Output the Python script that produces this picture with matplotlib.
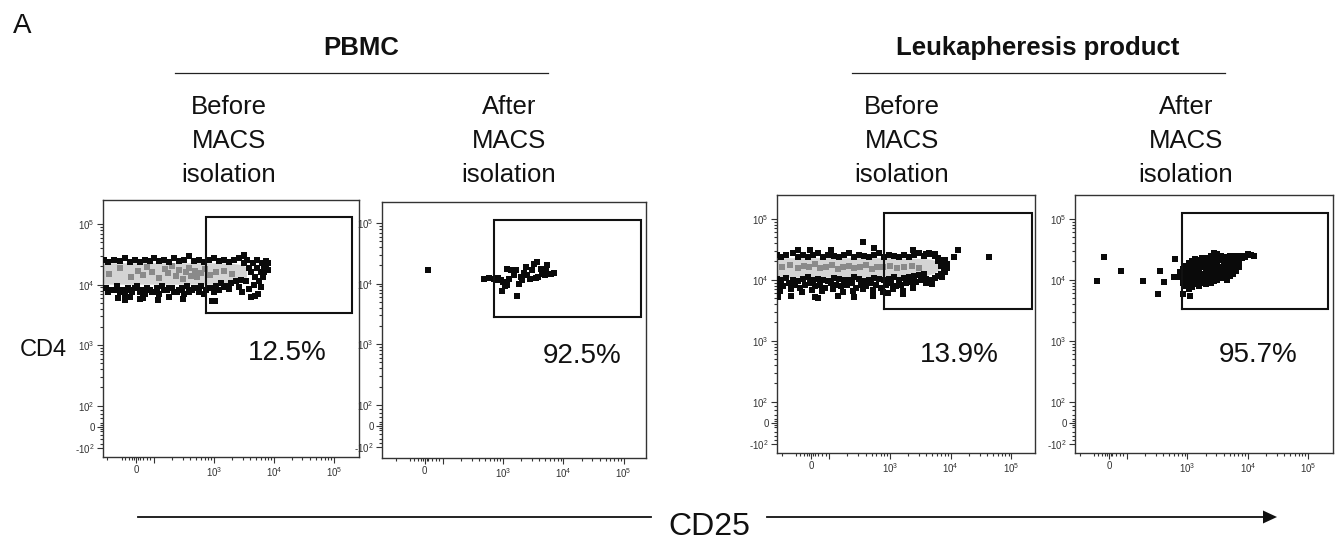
import numpy as np
import matplotlib
matplotlib.use("Agg")
import matplotlib.pyplot as plt
from matplotlib.lines import Line2D
from matplotlib.patches import Polygon

plt.rcParams['font.family'] = ['Liberation Sans', 'DejaVu Sans']
plt.rcParams['mathtext.fontset'] = 'custom'
plt.rcParams['mathtext.rm'] = 'Liberation Sans'
plt.rcParams['mathtext.it'] = 'Liberation Sans:italic'
plt.rcParams['mathtext.bf'] = 'Liberation Sans:bold'
plt.rcParams['axes.unicode_minus'] = False

# ---------------- data (CD25 on x, CD4 on y) ----------------
group_titles = ['PBMC', 'Leukapheresis product']
panel_titles = [['Before', 'MACS', 'isolation'], ['After', 'MACS', 'isolation'],
                ['Before', 'MACS', 'isolation'], ['After', 'MACS', 'isolation']]
percents = ['12.5%', '92.5%', '13.9%', '95.7%']
x_label = 'CD25'
y_label = 'CD4'

y_major = [-100, 0, 100, 1e3, 1e4, 1e5]
y_major_labels = ['-$10^2$', '0', '$10^2$', '$10^3$', '$10^4$', '$10^5$']
x_major = [0, 100, 1e3, 1e4, 1e5]
x_major_labels = ['0', '', '$10^3$', '$10^4$', '$10^5$']

# gates [cd25_lo, cd25_hi, cd4_lo, cd4_hi]
gates = [[736, 2.0e5, 3420, 1.32e5],
         [698, 1.9e5, 2800, 1.13e5],
         [795, 2.2e5, 3300, 1.24e5],
         [813, 2.1e5, 3300, 1.24e5]]

# --- PBMC before: dense band (fill) + grey speckles + black edge events
p1_band_cd25 = [-200, 0, 300, 1000, 2000, 2900, 3500]
p1_band_lo = [10200, 10200, 10200, 10200, 10500, 11500, 13500]
p1_band_hi = [23000, 23000, 23000, 23000, 22500, 21500, 19500]
p1_gray_cd25 = [-140, -90, -30, 10, 40, 60, 90, 120, 150, 170, 200, 230, 260, 300, 340,
                380, 420, 480, 520, 600, 700, 850, 1100, 1500, 2000]
p1_gray_cd4 = [15000, 19000, 13500, 17000, 14500, 19500, 16000, 13000, 18000, 15500,
               20000, 14000, 17500, 12500, 16500, 19000, 14000, 17000, 13500, 15500,
               18500, 14500, 16000, 17000, 15000]
p1_top_cd25 = [-172, -144, -117, -89, -61, -33, -6, 22, 50, 78, 102, 123, 149, 180, 218,
               264, 319, 386, 467, 565, 684, 827, 1000, 1210, 1463, 1770, 2142, 2590, 3134]
p1_top_cd4 = [25100, 23300, 25100, 24200, 27100, 23300, 25100, 23300, 25100, 24200,
              27100, 24200, 25100, 23300, 27100, 24200, 25100, 29300, 24200, 25100,
              23300, 25100, 27100, 24200, 25100, 23300, 25100, 27100, 29300]
p1_bot_cd25 = [-160, -130, -103, -75, -47, -20, 8, 36, 64, 90, 112, 136, 165, 199, 240,
               290, 350, 425, 515, 620, 750, 910, 1100, 1330, 1610, 1950, 2360, 2850]
p1_bot_cd4 = [8910, 8250, 9620, 8250, 8910, 7640, 9620, 8250, 8910, 7640, 8910, 9620,
              8250, 8910, 7640, 8910, 9620, 8250, 8910, 9620, 8250, 8910, 9620, 10800,
              9620, 10800, 11500, 12100]
p1_bot2_cd25 = [-145, -117, -89, -61, -33, -6, 22, 50, 78, 102, 123, 149, 180, 218, 264,
                319, 386, 467, 565, 684, 827, 1000, 1210, 1463, 1770]
p1_bot2_cd4 = [7640, 8250, 7640, 7080, 8250, 8910, 7640, 7080, 8250, 7640, 7080, 8250,
               8910, 7640, 8250, 7080, 7640, 8910, 7640, 7080, 8910, 7640, 8250, 9000, 8600]
p1_low_cd25 = [-100, -61, -33, 22, 39, 115, 180, 300, 930, 1050]
p1_low_cd4 = [6070, 5620, 6300, 5800, 6070, 5620, 6300, 5900, 5400, 5400]
p1_end_cd25 = [3134, 3510, 3792, 4090, 4415, 4760, 5140, 5140, 5548, 5985, 6220, 6712,
               6970, 7520, 5985, 4586, 3792, 3380, 2904, 2590, 5340, 4090, 4760, 6970,
               7520, 8120, 8120, 3230]
p1_end_cd4 = [22400, 26000, 19200, 16500, 22400, 13600, 19200, 26000, 11300, 16500,
              22400, 13600, 19800, 25000, 9260, 10000, 8580, 11300, 7640, 9000, 7080,
              6310, 6500, 16000, 21000, 23000, 17500, 31000]

# --- PBMC after
p2_cd25 = [18, 484, 586, 710, 826, 916, 1010, 1070, 975, 1180, 1260, 1340, 1520, 1840,
           1730, 1960, 2230, 2380, 2800, 3060, 3190, 3710, 3800, 4480, 5100, 5430, 6170,
           7010, 1150, 1620, 2090, 2530, 3480, 4220, 4910, 757]
p2_cd4 = [16600, 11800, 12400, 12100, 12400, 11400, 10700, 9150, 7450, 9620, 12100,
          16700, 13800, 10000, 6240, 12900, 15200, 19000, 12100, 16700, 21500, 23000,
          12900, 14700, 17300, 20200, 14700, 15200, 17300, 16700, 11400, 13800, 12400,
          17800, 13800, 11400]

# --- Leukapheresis before
p3_band_cd25 = [-200, 0, 300, 1000, 2000, 3500, 5000, 6500]
p3_band_lo = [11000, 11000, 11000, 11000, 11000, 11500, 12500, 14500]
p3_band_hi = [23000, 23000, 23000, 23000, 22500, 22500, 21500, 19500]
p3_gray_cd25 = [-150, -110, -70, -40, -10, 20, 50, 80, 110, 140, 170, 210, 260, 320, 400,
                500, 620, 780, 1000, 1300, 1700, 2300, 3000]
p3_gray_cd4 = [16000, 17500, 15500, 17000, 16000, 18000, 15500, 16500, 17500, 15000,
               16500, 17000, 15500, 16000, 17500, 15000, 16500, 16000, 17000, 15500,
               16000, 17000, 15500]
p3_row_cd25 = [-183, -156, -128, -100, -72, -44, -17, 11, 39, 67, 94, 119, 144, 175, 211,
               255, 308, 373, 451, 545, 659, 796, 962, 1160, 1410, 1700, 2060, 2480, 3000, 3630]
p3_top_cd4 = [25700, 23800, 25700, 27700, 23800, 25700, 23800, 25700, 27700, 23800,
              25700, 24500, 23800, 25700, 27700, 23800, 25700, 24500, 23800, 25700,
              27700, 23800, 25700, 24500, 23800, 25700, 23800, 25700, 27700, 24500]
p3_bota_cd4 = [10400, 9800, 10800, 10000, 9500, 10400, 11000, 9800, 10400, 10000, 9500,
               10800, 10400, 9800, 10000, 11000, 10400, 9500, 10000, 10800, 10400, 9800,
               10400, 11000, 10000, 10800, 11200, 11500, 12000, 12500]
p3_botb_cd25 = [-172, -144, -117, -89, -61, -33, -6, 22, 50, 78, 106, 131, 159, 193, 233,
                281, 340, 410, 496, 600, 725, 875, 1060, 1280, 1550, 1870, 2260, 2730,
                3300, 3990]
p3_botb_cd4 = [8280, 7800, 8800, 8280, 7390, 8280, 8800, 7800, 8280, 7390, 8800, 8280,
               7800, 8280, 8800, 7390, 8280, 7800, 8800, 8280, 7390, 8280, 8800, 7800,
               8280, 8800, 9270, 9270, 9800, 10400]
p3_botc_cd25 = [-161, -106, -50, 6, 61, 116, 169, 244, 355, 525, 770, 1120, 1640, 2410]
p3_botc_cd4 = [6600, 7000, 6300, 6800, 6600, 7000, 6300, 6600, 7000, 6800, 6300, 7000,
               6600, 7400]
p3_low_cd25 = [-172, -107, 22, 39, 139, 255, 520, 915, 1620]
p3_low_cd4 = [5260, 5500, 5260, 4950, 5500, 5260, 5500, 6000, 5800]
p3_out_cd25 = [-70, -6, 107, 355, 540, 2370, 11200, 13000, 43300]
p3_out_cd4 = [30700, 30700, 30700, 42000, 32600, 30700, 23800, 30700, 23200]
p3_end_cd25 = [3920, 4390, 4920, 5510, 6180, 6920, 7760, 8690, 8690, 7760, 6920, 6180,
               5510, 4920, 4390, 3920, 7760, 6920, 8000, 6180, 5510, 4920, 7200, 8200]
p3_end_cd4 = [26000, 27500, 26000, 24500, 22900, 21000, 19700, 18000, 15500, 14590,
              12540, 11500, 10790, 9800, 9280, 9000, 17000, 16950, 13500, 20000, 26500,
              8500, 11000, 21500]

# --- Leukapheresis after
p4_out_cd25 = [-68, -28, 65, 185, 350, 330, 410, 590, 620, 850, 1090]
p4_out_cd4 = [9500, 24000, 14000, 9500, 14000, 5800, 9300, 11000, 22000, 5900, 5400]
p4_col_cd25 = [760, 850, 950, 1050, 1200, 1350, 1550, 1750, 2000, 2250, 2500, 2800, 3150,
               3550, 4000, 4500, 5000, 5600, 6300, 7100, 8000, 9000, 10000, 11500, 12500]
p4_col_cd4 = [[11000, 13500],
              [9000, 10500, 12000, 15000],
              [8000, 10000, 12500, 14500, 17000],
              [7000, 9500, 11500, 13500, 16000, 19000],
              [7500, 9000, 11000, 13000, 15500, 18000, 20500],
              [8500, 10500, 12000, 14000, 16500, 19500, 22000],
              [8000, 9500, 11500, 13500, 15000, 17500, 21000],
              [9000, 10500, 12500, 16000, 18500, 22500],
              [8500, 10000, 12000, 14000, 17000, 20000, 23000],
              [9500, 11000, 13000, 15500, 19000, 21500],
              [9000, 10500, 12500, 18000, 22000, 25000],
              [9500, 11500, 14500, 17000, 20500, 24000, 27500],
              [10000, 12000, 15000, 19000, 23000, 26500],
              [10500, 13000, 16500, 21000, 24500],
              [11000, 14000, 17500, 20000, 23500],
              [10000, 12000, 15500, 19000, 22500],
              [11500, 13500, 16500, 21000, 25000],
              [12500, 15000, 18500, 23000],
              [14000, 17000, 21000, 24500],
              [16500, 19500, 23500],
              [22500, 25000],
              [24000],
              [26000],
              [25500],
              [25000]]


# ---------------- scale (biexponential-like display) ----------------
def make_scale(T, L):
    def fwd(v):
        v = np.asarray(v, dtype=float)
        a = np.abs(v)
        with np.errstate(divide='ignore', invalid='ignore'):
            lg = np.sign(v) * (L + np.log10(np.maximum(a, T) / T))
        return np.where(a <= T, v / T * L, lg)

    def inv(f):
        f = np.asarray(f, dtype=float)
        a = np.abs(f)
        with np.errstate(over='ignore'):
            lg = np.sign(f) * T * 10 ** (np.maximum(a, L) - L)
        return np.where(a <= L, f / L * T, lg)
    return fwd, inv


fx, ix = make_scale(100.0, 0.30)
fy, iy = make_scale(100.0, 0.35)

log_minor = [m * 10 ** k for k in (2, 3, 4) for m in range(2, 10)]
y_minor = [-80, -60, -40, -20, -10, 10, 20, 40, 60, 80] + log_minor
x_minor = [-150, -80, -60, -40, -20, -10, 10, 20, 40, 60, 80] + log_minor

W, H = 1342, 542
fig = plt.figure(figsize=(W / 100, H / 100), dpi=100)


def fxy(x, y):
    return x / W, 1 - y / H


# panel layout in pixels: left, top, right, bottom, x-limits, y-limits (display units)
layout = [
    dict(box=(103, 200, 359, 457), xl=(-0.55, 3.72), yl=(-0.50, 3.75), pct=(0.719, 0.377), head=229),
    dict(box=(382, 202, 646, 458), xl=(-0.71, 3.67), yl=(-0.53, 3.70), pct=(0.758, 0.371), head=509),
    dict(box=(777, 195, 1035, 453), xl=(-0.56, 3.69), yl=(-0.49, 3.74), pct=(0.705, 0.353), head=902),
    dict(box=(1075, 195, 1333, 453), xl=(-0.56, 3.71), yl=(-0.49, 3.74), pct=(0.709, 0.353), head=1186),
]

p4_cl_x = []
p4_cl_y = []
for xv, ys in zip(p4_col_cd25, p4_col_cd4):
    for yv in ys:
        p4_cl_x.append(xv)
        p4_cl_y.append(yv)

panels = [
    dict(band=(p1_band_cd25, p1_band_lo, p1_band_hi),
         gray=(p1_gray_cd25, p1_gray_cd4),
         black=[(p1_top_cd25, p1_top_cd4), (p1_bot_cd25, p1_bot_cd4),
                (p1_bot2_cd25, p1_bot2_cd4), (p1_low_cd25, p1_low_cd4),
                (p1_end_cd25, p1_end_cd4)]),
    dict(band=None, gray=None, black=[(p2_cd25, p2_cd4)]),
    dict(band=(p3_band_cd25, p3_band_lo, p3_band_hi),
         gray=(p3_gray_cd25, p3_gray_cd4),
         black=[(p3_row_cd25, p3_top_cd4), (p3_row_cd25, p3_bota_cd4),
                (p3_botb_cd25, p3_botb_cd4), (p3_botc_cd25, p3_botc_cd4),
                (p3_low_cd25, p3_low_cd4), (p3_out_cd25, p3_out_cd4),
                (p3_end_cd25, p3_end_cd4)]),
    dict(band=None, gray=None, black=[(p4_out_cd25, p4_out_cd4), (p4_cl_x, p4_cl_y)]),
]

for i, (lay, pan) in enumerate(zip(layout, panels)):
    l, t, r, b = lay['box']
    ax = fig.add_axes([l / W, 1 - b / H, (r - l) / W, (b - t) / H])
    ax.set_xscale('function', functions=(fx, ix))
    ax.set_yscale('function', functions=(fy, iy))
    ax.set_xlim(float(ix(lay['xl'][0])), float(ix(lay['xl'][1])))
    ax.set_ylim(float(iy(lay['yl'][0])), float(iy(lay['yl'][1])))

    if pan['band'] is not None:
        bx, blo, bhi = pan['band']
        ax.fill_between(bx, blo, bhi, color='#d4d4d4', lw=0, zorder=1)
    if pan['gray'] is not None:
        ax.scatter(pan['gray'][0], pan['gray'][1], s=14, marker='s', c='#8a8a8a',
                   linewidths=0, zorder=2)
    for bxs, bys in pan['black']:
        ax.scatter(bxs, bys, s=14, marker='s', c='#0a0a0a', linewidths=0, zorder=3)

    g = gates[i]
    ax.plot([g[0], g[1], g[1], g[0], g[0]], [g[2], g[2], g[3], g[3], g[2]],
            color='#111111', lw=1.5, zorder=4, solid_joinstyle='miter')
    ax.text(lay['pct'][0], lay['pct'][1], percents[i], transform=ax.transAxes,
            ha='center', va='baseline', fontsize=20, color='#111111')

    ax.set_yticks(y_major)
    ax.set_yticklabels(y_major_labels)
    ax.set_xticks(x_major)
    ax.set_xticklabels(x_major_labels)
    ax.set_yticks(y_minor, minor=True)
    ax.set_xticks(x_minor, minor=True)
    ax.tick_params(which='both', direction='out', colors='#333333', labelsize=7,
                   width=0.8, top=False, right=False)
    ax.tick_params(which='major', length=4, pad=2)
    ax.tick_params(which='minor', length=2)
    for sp in ax.spines.values():
        sp.set_color('#333333')
        sp.set_linewidth(1.0)

    # column header (three lines)
    for txt, base in zip(panel_titles[i], (114, 148, 182)):
        fig.text(*fxy(lay['head'], base), txt, ha='center', va='baseline', fontsize=18.5,
                 color='#111111')

# group headers with rules
fig.text(*fxy(361, 55), group_titles[0], ha='center', va='baseline', fontsize=18.5,
         fontweight='bold', color='#111111')
fig.text(*fxy(1038, 55), group_titles[1], ha='center', va='baseline', fontsize=18.5,
         fontweight='bold', color='#111111')
for x0, x1 in ((175, 548), (852, 1225)):
    (a0, yy), (a1, _) = fxy(x0, 73), fxy(x1, 73)
    fig.add_artist(Line2D([a0, a1], [yy, yy], color='#222222', lw=0.9))

# panel letter and axis labels
fig.text(*fxy(13, 33), 'A', ha='left', va='baseline', fontsize=20, color='#111111')
fig.text(*fxy(20, 356), y_label, ha='left', va='baseline', fontsize=17, color='#111111')
fig.text(*fxy(709, 535), x_label, ha='center', va='baseline', fontsize=23, color='#111111')

# CD25 arrow
(a0, yy), (a1, _) = fxy(138, 517), fxy(651, 517)
fig.add_artist(Line2D([a0, a1], [yy, yy], color='#111111', lw=1.3))
(a0, yy), (a1, _) = fxy(767, 517), fxy(1265, 517)
fig.add_artist(Line2D([a0, a1], [yy, yy], color='#111111', lw=1.3))
tri = [fxy(1263, 510.5), fxy(1263, 523.5), fxy(1277, 517)]
fig.add_artist(Polygon(tri, closed=True, transform=fig.transFigure, color='#111111', lw=0))

fig.savefig('out.png', dpi=100, facecolor='white')
